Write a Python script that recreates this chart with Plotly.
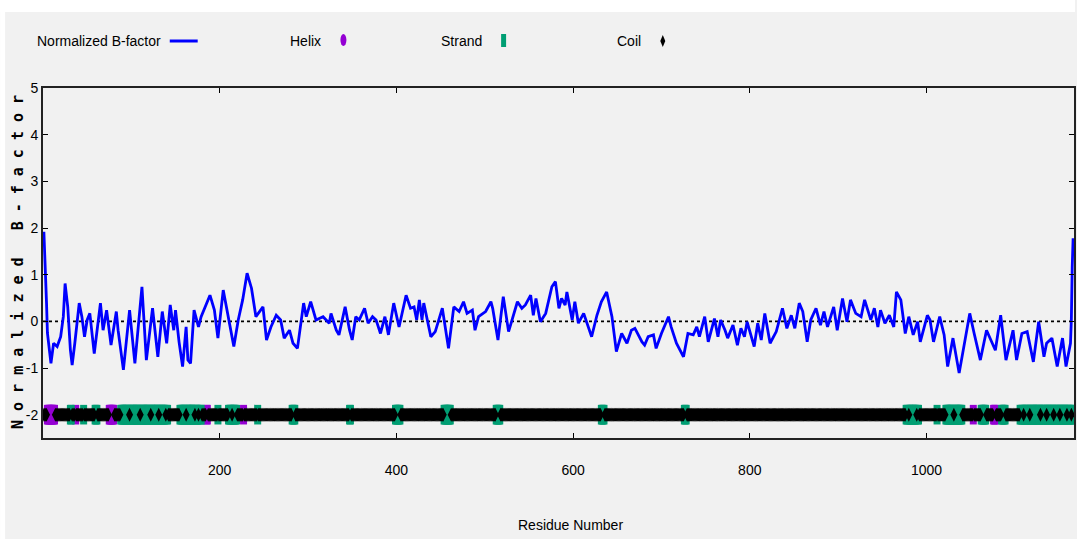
import plotly.graph_objects as go

# ---------------- data ----------------
residue = [1, 2, 3, 4, 5, 9, 12, 16, 20, 23, 25, 28, 31, 33, 36, 41, 44, 47, 50, 53,
           58, 65, 68, 72, 77, 83, 85, 91, 98, 104, 112, 117, 124, 130, 135, 140, 144, 148, 150, 154,
           158, 162, 164, 167, 171, 176, 179, 189, 194, 198, 204, 211, 216, 221, 226, 231, 236, 241, 249, 253,
           258, 264, 269, 273, 279, 283, 288, 295, 298, 303, 309, 317, 324, 326, 332, 335, 342, 347, 350, 354,
           358, 364, 368, 373, 377, 382, 387, 391, 397, 403, 411, 416, 420, 423, 426, 429, 431, 439, 444, 452,
           459, 465, 471, 476, 480, 486, 489, 493, 501, 507, 509, 515, 521, 527, 531, 537, 542, 546, 552, 555,
           558, 563, 569, 576, 580, 584, 587, 591, 593, 599, 602, 606, 612, 621, 627, 632, 638, 644, 649, 655,
           661, 666, 670, 678, 681, 685, 691, 694, 700, 708, 711, 717, 725, 730, 736, 740, 743, 749, 753, 760,
           764, 767, 772, 775, 781, 786, 790, 794, 797, 805, 809, 813, 817, 823, 830, 837, 842, 847, 851, 856,
           860, 865, 869, 875, 880, 884, 888, 895, 899, 905, 910, 914, 920, 926, 930, 937, 941, 945, 948, 953,
           958, 963, 966, 971, 976, 980, 985, 990, 993, 1001, 1004, 1008, 1015, 1020, 1024, 1030, 1037, 1044, 1049, 1054,
           1061, 1068, 1072, 1078, 1084, 1090, 1098, 1102, 1108, 1114, 1121, 1127, 1133, 1136, 1142, 1148, 1154, 1158, 1163, 1164,
           1165, 1166]
bfactor = [1.92, 1.5, 0.96, 0.39, -0.25, -0.9, -0.47, -0.54, -0.33, 0.1, 0.81, 0.31, -0.61, -0.94, -0.47, 0.39, 0.1, -0.33, 0.03, 0.17,
           -0.69, 0.39, -0.19, 0.24, -0.51, 0.21, -0.19, -1.04, 0.24, -0.9, 0.74, -0.83, 0.28, -0.76, 0.21, -0.47, 0.35, -0.19, 0.24, -0.44,
           -0.97, -0.12, -0.83, -0.9, 0.24, -0.12, 0.1, 0.56, 0.24, -0.36, 0.67, -0.04, -0.54, 0.03, 0.46, 1.03, 0.71, 0.1, 0.31, -0.4,
           -0.12, 0.13, 0.03, -0.36, -0.19, -0.47, -0.58, 0.39, 0.1, 0.42, 0.03, 0.1, -0.04, 0.17, -0.19, -0.29, 0.31, -0.19, -0.4, 0.1,
           0.03, 0.28, -0.04, 0.1, 0.03, -0.26, 0.1, -0.29, 0.39, -0.12, 0.56, 0.28, 0.31, 0.03, 0.46, 0.03, 0.39, -0.33, -0.22, 0.28,
           -0.58, 0.31, 0.21, 0.42, 0.17, 0.24, -0.19, 0.1, 0.21, 0.42, 0.28, -0.4, 0.53, -0.22, 0.03, 0.42, 0.28, 0.35, 0.56, 0.13,
           0.49, -0.01, 0.17, 0.74, 0.85, 0.28, 0.49, 0.35, 0.63, 0.03, 0.42, -0.04, 0.17, -0.33, 0.13, 0.42, 0.63, 0.1, -0.65, -0.26,
           -0.47, -0.19, -0.15, -0.44, -0.51, -0.33, -0.29, -0.58, -0.26, 0.1, -0.12, -0.47, -0.76, -0.26, -0.29, -0.12, -0.33, 0.1, -0.44, 0.06,
           -0.33, 0.03, -0.19, -0.36, -0.08, -0.51, -0.15, -0.33, -0.01, -0.54, -0.04, -0.4, 0.17, -0.47, -0.22, 0.28, -0.15, 0.13, -0.15, 0.39,
           0.21, -0.44, 0.03, 0.28, -0.08, 0.21, -0.12, 0.31, -0.19, 0.49, -0.01, 0.46, 0.17, 0.1, 0.46, 0.03, 0.28, -0.12, 0.24, -0.04,
           0.13, -0.12, 0.63, 0.46, -0.26, 0.1, -0.29, -0.01, -0.44, 0.13, 0.03, -0.44, 0.1, -0.29, -0.97, -0.36, -1.11, -0.33, 0.17, -0.26,
           -0.83, -0.19, -0.36, -0.62, 0.13, -0.83, -0.19, -0.83, -0.26, -0.22, -0.87, -0.01, -0.76, -0.47, -0.36, -0.97, -0.36, -0.97, -0.47, 0.03,
           1.17, 1.78]

n_residues = 1166
helix_segments = [(5, 13), (37, 37), (75, 80), (185, 186), (227, 227), (1053, 1053), (1076, 1078)]
strand_segments = [(31, 32), (46, 46), (59, 61), (88, 141), (155, 179), (198, 198), (210, 219), (243, 243),
                   (282, 285), (347, 348), (399, 404), (454, 461), (513, 517), (632, 635), (726, 728),
                   (977, 991), (1012, 1012), (1022, 1040), (1062, 1067), (1085, 1089), (1106, 1166)]
coil_breaks = [98, 110, 122, 131, 139, 162, 172, 176, 214, 980, 989, 1031, 1110, 1117, 1129, 1136,
               1144, 1151, 1159, 1164]

x_ticks = [200, 400, 600, 800, 1000]
y_ticks = [-2, -1, 0, 1, 2, 3, 4, 5]
y_tick_text = ["-2", "-1", "0", "1", "2", "3", "4", "5"]
ss_level = -2

# ---------------- secondary structure per residue ----------------
ss = {r: "C" for r in range(1, n_residues + 1)}
for a, b in helix_segments:
    for r in range(a, b + 1):
        ss[r] = "H"
for a, b in strand_segments:
    for r in range(a, b + 1):
        ss[r] = "E"
for r in coil_breaks:
    ss[r] = "C"
helix_x = [r for r in ss if ss[r] == "H"]
strand_x = [r for r in ss if ss[r] == "E"]
coil_x = [r for r in ss if ss[r] == "C"]

# ---------------- styling ----------------
W, H = 1077, 539
L, R, T, B = 43, 1, 88, 101
PW, PH = W - L - R, H - T - B
BG = "#f1f1f1"
FONT = "Liberation Sans, Arial, sans-serif"
BLUE, PURPLE, GREEN = "#0000ff", "#9400d3", "#009e73"


def px(xp):
    return (xp - L) / PW


def py(yp):
    return (H - B - yp) / PH


fig = go.Figure()
fig.add_trace(go.Scatter(x=residue, y=bfactor, mode="lines",
                         line=dict(color=BLUE, width=2.8), hoverinfo="skip"))
fig.add_trace(go.Scatter(x=helix_x, y=[ss_level] * len(helix_x), mode="markers",
                         marker=dict(symbol="line-ns", size=14, line=dict(color=PURPLE, width=7)),
                         hoverinfo="skip"))
fig.add_trace(go.Scatter(x=strand_x, y=[ss_level] * len(strand_x), mode="markers",
                         marker=dict(symbol="line-ns", size=14, line=dict(color=GREEN, width=7)),
                         hoverinfo="skip"))
fig.add_trace(go.Scatter(x=coil_x, y=[ss_level] * len(coil_x), mode="markers",
                         marker=dict(symbol="diamond-tall", size=10, color="black", line=dict(width=0)),
                         hoverinfo="skip"))

shapes = [
    dict(type="line", xref="x", yref="y", x0=0, x1=1167, y0=0, y1=0,
         line=dict(color="black", width=1.6, dash="dot"), layer="below"),
    # white outer strips
    dict(type="rect", xref="paper", yref="paper", x0=px(0), x1=px(W), y0=py(12), y1=py(0),
         fillcolor="white", line=dict(width=0), layer="above"),
    dict(type="rect", xref="paper", yref="paper", x0=px(0), x1=px(5), y0=py(H), y1=py(0),
         fillcolor="white", line=dict(width=0), layer="above"),
    # legend symbols
    dict(type="line", xref="paper", yref="paper", x0=px(170), x1=px(198), y0=py(41), y1=py(41),
         line=dict(color=BLUE, width=3)),
    dict(type="circle", xref="paper", yref="paper", x0=px(341), x1=px(347), y0=py(46), y1=py(34),
         fillcolor=PURPLE, line=dict(width=0)),
    dict(type="rect", xref="paper", yref="paper", x0=px(502), x1=px(507), y0=py(47), y1=py(34),
         fillcolor=GREEN, line=dict(width=0)),
    dict(type="path", xref="paper", yref="paper",
         path=f"M {px(664)},{py(35)} L {px(666.5)},{py(41)} L {px(664)},{py(47)} L {px(661.5)},{py(41)} Z",
         fillcolor="black", line=dict(width=0)),
]

ann_font = dict(family=FONT, size=14, color="black")
annotations = [
    dict(text="Normalized B-factor", x=px(163), y=py(41), xref="paper", yref="paper",
         xanchor="right", yanchor="middle", showarrow=False, font=ann_font),
    dict(text="Helix", x=px(324), y=py(41), xref="paper", yref="paper",
         xanchor="right", yanchor="middle", showarrow=False, font=ann_font),
    dict(text="Strand", x=px(485), y=py(41), xref="paper", yref="paper",
         xanchor="right", yanchor="middle", showarrow=False, font=ann_font),
    dict(text="Coil", x=px(644), y=py(41), xref="paper", yref="paper",
         xanchor="right", yanchor="middle", showarrow=False, font=ann_font),
    dict(text="Residue Number", x=px(572), y=py(525), xref="paper", yref="paper",
         xanchor="center", yanchor="middle", showarrow=False, font=ann_font),
    dict(text="\u00a0".join(list("Normalized")) + "\u00a0\u00a0\u00a0" + "\u00a0".join(list("B-factor")),
         x=px(18), y=py(262), xref="paper", yref="paper", textangle=-90,
         xanchor="center", yanchor="middle", showarrow=False,
         font=dict(family="DejaVu Sans Mono", size=15, color="black", weight="bold")),
]

axis_common = dict(showgrid=False, zeroline=False, showline=True, linecolor="#222222", linewidth=2,
                   ticks="inside", ticklen=5, tickwidth=1, tickcolor="black", mirror="ticks",
                   tickfont=dict(family=FONT, size=14, color="black"))

fig.update_layout(
    width=W, height=H, margin=dict(l=L, r=R, t=T, b=B),
    paper_bgcolor=BG, plot_bgcolor=BG, showlegend=False,
    xaxis=dict(range=[0, 1167], tickvals=x_ticks, ticklabelstandoff=18, **axis_common),
    yaxis=dict(range=[-2.5, 5], tickvals=y_ticks, ticktext=y_tick_text, ticklabelstandoff=0, **axis_common),
    shapes=shapes, annotations=annotations,
)

fig.write_html("out.html", config={"displayModeBar": False},
               post_script="document.body.style.margin='0';")
